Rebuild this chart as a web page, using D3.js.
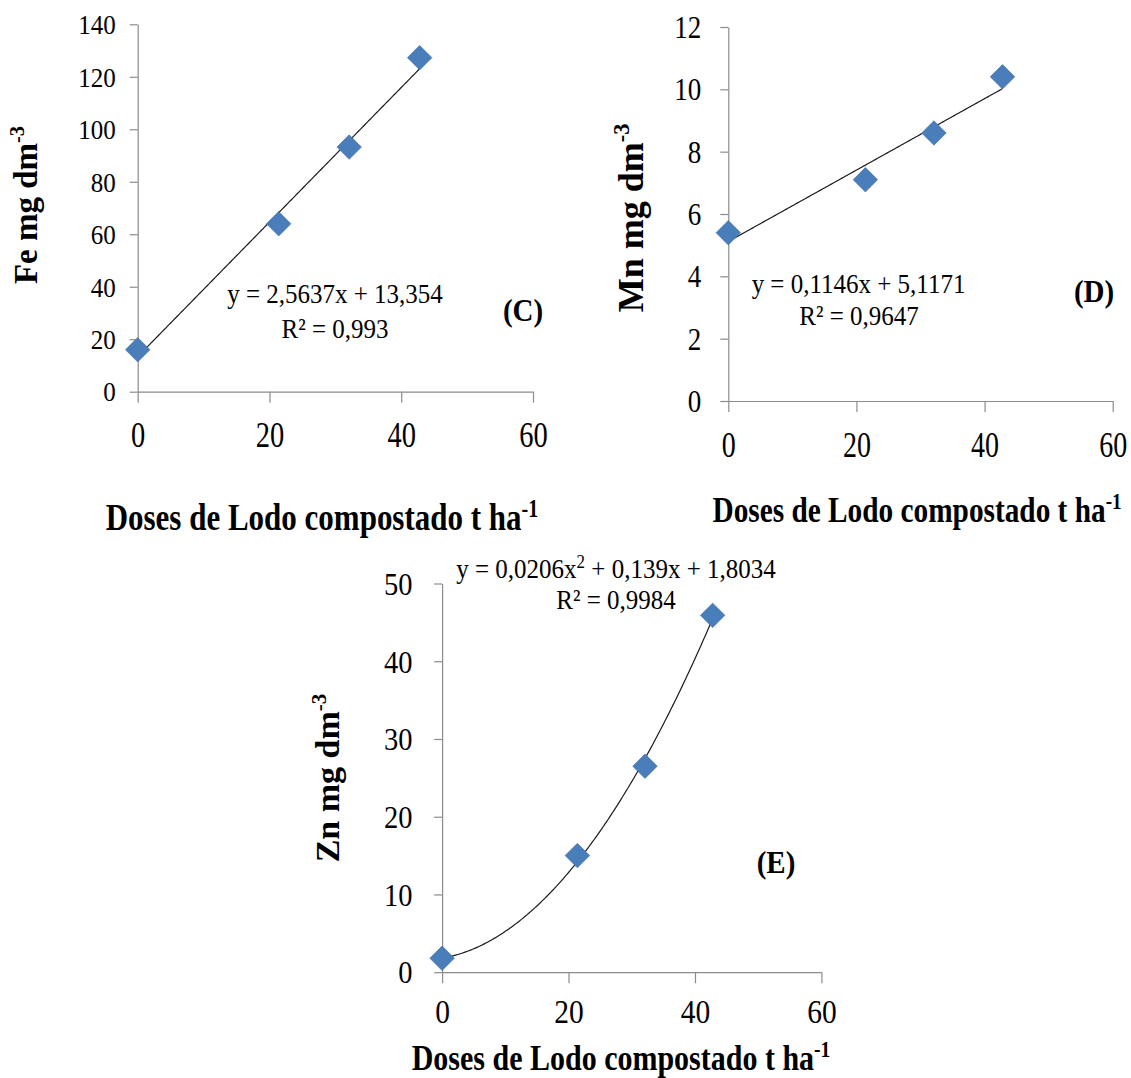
<!DOCTYPE html>
<html>
<head>
<meta charset="utf-8">
<script src="https://cdn.jsdelivr.net/npm/d3@7"></script>
<style>
  html, body { margin: 0; padding: 0; background: #fff; }
  svg { display: block; }
</style>
</head>
<body>
<svg id="chart" width="1131" height="1078"></svg>
<script>
// Sewage-sludge compost doses (t/ha) applied in every panel
const doses = [0, 21.4, 32.1, 42.8];
const doseTicks = [0, 20, 40, 60];

// Micronutrient contents in soil (mg/dm3)
const feValues = [16, 64, 93.2, 127.3];
const mnValues = [5.4, 7.1, 8.6, 10.4];
const znValues = [1.8, 15, 26.5, 45.9];

const feTicks = [0, 20, 40, 60, 80, 100, 120, 140];
const mnTicks = [0, 2, 4, 6, 8, 10, 12];
const znTicks = [0, 10, 20, 30, 40, 50];

// Fitted regression coefficients, constant term first
const feFit = [13.354, 2.5637];
const mnFit = [5.1171, 0.1146];
const znFit = [1.8034, 0.139, 0.0206];

const feR2 = "0,993";
const mnR2 = "0,9647";
const znR2 = "0,9984";

const svg = d3.select("#chart");
const SERIF = "'Liberation Serif', 'Times New Roman', serif";
const AXIS = "#8c8c8c";
const MARK = "#4a7ebb";

function poly(c, xv) { return c.reduce((s, k, i) => s + k * Math.pow(xv, i), 0); }

// Text with a slight vertical stretch, like the original figure's lettering
function stretched(g, x, y, size, sy, anchor, weight) {
  return g.append("text")
    .attr("transform", `translate(${x},${y}) scale(1,${sy})`)
    .attr("text-anchor", anchor)
    .style("font-family", SERIF)
    .style("font-size", size + "px")
    .style("font-weight", weight || "normal")
    .attr("fill", "#000");
}

function sup(t, s, size, dy) {
  t.append("tspan").text(s).style("font-size", size + "px").attr("dy", dy);
}

function drawPanel(p) {
  const g = svg.append("g");
  const x = d3.scaleLinear().domain([0, 60]).range([p.x0, p.x60]);
  const y = d3.scaleLinear().domain([0, p.yMax]).range([p.y0, p.yTop]);

  // y axis
  const ya = g.append("g").attr("transform", `translate(${p.x0},0)`)
    .call(d3.axisLeft(y).tickValues(p.yTicks).tickSize(8).tickSizeOuter(0));
  ya.select(".domain").attr("stroke", AXIS).attr("stroke-width", 1.2);
  ya.selectAll(".tick line").attr("stroke", AXIS).attr("stroke-width", 1.2);
  ya.selectAll(".tick text")
    .attr("x", null).attr("dy", null).attr("fill", "#000")
    .attr("text-anchor", "end")
    .attr("transform", `translate(${-p.yGap},${0.338 * p.ySize * p.ySy}) scale(1,${p.ySy})`)
    .style("font-family", SERIF).style("font-size", p.ySize + "px");

  // x axis
  const xa = g.append("g").attr("transform", `translate(0,${p.y0})`)
    .call(d3.axisBottom(x).tickValues(doseTicks).tickSize(11).tickSizeOuter(0));
  xa.select(".domain").attr("stroke", AXIS).attr("stroke-width", 1.2);
  xa.selectAll(".tick line").attr("stroke", AXIS).attr("stroke-width", 1.2);
  xa.selectAll(".tick text")
    .attr("y", null).attr("dy", null).attr("fill", "#000")
    .attr("transform", `translate(0,${p.xBase}) scale(1,${p.xSy})`)
    .style("font-family", SERIF).style("font-size", p.xSize + "px");

  // fitted trend line
  const xs = d3.range(0, doses[doses.length - 1] + 0.001, 0.25);
  g.append("path")
    .datum(xs)
    .attr("fill", "none")
    .attr("stroke", "#1a1a1a")
    .attr("stroke-width", 1.2)
    .attr("d", d3.line().x(d => x(d)).y(d => y(poly(p.fit, d))));

  // observed values as diamonds
  g.selectAll("path.pt")
    .data(doses.map((d, i) => [d, p.values[i]]))
    .join("path")
    .attr("class", "pt")
    .attr("d", d3.symbol(d3.symbolSquare, 300))
    .attr("transform", d => `translate(${x(d[0])},${y(d[1])}) rotate(45)`)
    .attr("fill", MARK)
    .attr("stroke", "#3f6fa6")
    .attr("stroke-width", 0.6);

  // axis titles
  const yt = g.append("text")
    .attr("transform", `translate(${p.ytX},${p.ytY}) rotate(-90)`)
    .attr("text-anchor", "middle")
    .style("font-family", SERIF).style("font-weight", "bold")
    .style("font-size", p.ytSize + "px")
    .text(p.element + " mg dm");
  sup(yt, "-3", p.ytSize * 0.62, -p.ytSize * 0.38);

  const xt = stretched(g, p.xtX, p.xtY, p.xtSize, 1.2, "middle", "bold").text("Doses de Lodo compostado t ha");
  sup(xt, "-1", p.xtSize * 0.65, -p.xtSize * 0.36);

  // regression equation and coefficient of determination
  const eq = stretched(g, p.eqX, p.eqY, 25, 1.12, "middle").text(p.eq[0]);
  if (p.eq.length > 1) {
    sup(eq, "2", 17, -9);
    eq.append("tspan").text(p.eq[1]).attr("dy", 9);
  }
  stretched(g, p.r2X, p.r2Y, 25, 1.12, "middle").text("R² = " + p.r2);

  // panel letter
  stretched(g, p.lbX, p.lbY, 29, 1.1, "middle", "bold").text(p.letter);
}

drawPanel({
  element: "Fe", values: feValues, fit: feFit, r2: feR2, letter: "(C)",
  yMax: 140, yTicks: feTicks,
  x0: 137.7, x60: 533, y0: 391.7, yTop: 24.3,
  yGap: 22, ySize: 25, ySy: 1.1,
  xBase: 55, xSize: 28.5, xSy: 1.22,
  ytX: 37, ytY: 205, ytSize: 33,
  xtX: 322, xtY: 530, xtSize: 31,
  eq: ["y = 2,5637x + 13,354"], eqX: 335, eqY: 303,
  r2X: 335, r2Y: 338,
  lbX: 523, lbY: 321
});

drawPanel({
  element: "Mn", values: mnValues, fit: mnFit, r2: mnR2, letter: "(D)",
  yMax: 12, yTicks: mnTicks,
  x0: 728.3, x60: 1112.7, y0: 401, yTop: 27,
  yGap: 27, ySize: 27, ySy: 1.15,
  xBase: 56, xSize: 28, xSy: 1.25,
  ytX: 643, ytY: 218, ytSize: 36,
  xtX: 917, xtY: 522, xtSize: 29.3,
  eq: ["y = 0,1146x + 5,1171"], eqX: 858.5, eqY: 293,
  r2X: 859, r2Y: 325,
  lbX: 1094, lbY: 302
});

drawPanel({
  element: "Zn", values: znValues, fit: znFit, r2: znR2, letter: "(E)",
  yMax: 50, yTicks: znTicks,
  x0: 442.1, x60: 821.4, y0: 972.2, yTop: 583.5,
  yGap: 29.5, ySize: 28.5, ySy: 1.12,
  xBase: 51, xSize: 29.5, xSy: 1.12,
  ytX: 339, ytY: 778, ytSize: 34,
  xtX: 621, xtY: 1070, xtSize: 30,
  eq: ["y = 0,0206x", " + 0,139x + 1,8034"], eqX: 616, eqY: 578,
  r2X: 616, r2Y: 609,
  lbX: 776, lbY: 873
});
</script>
</body>
</html>
